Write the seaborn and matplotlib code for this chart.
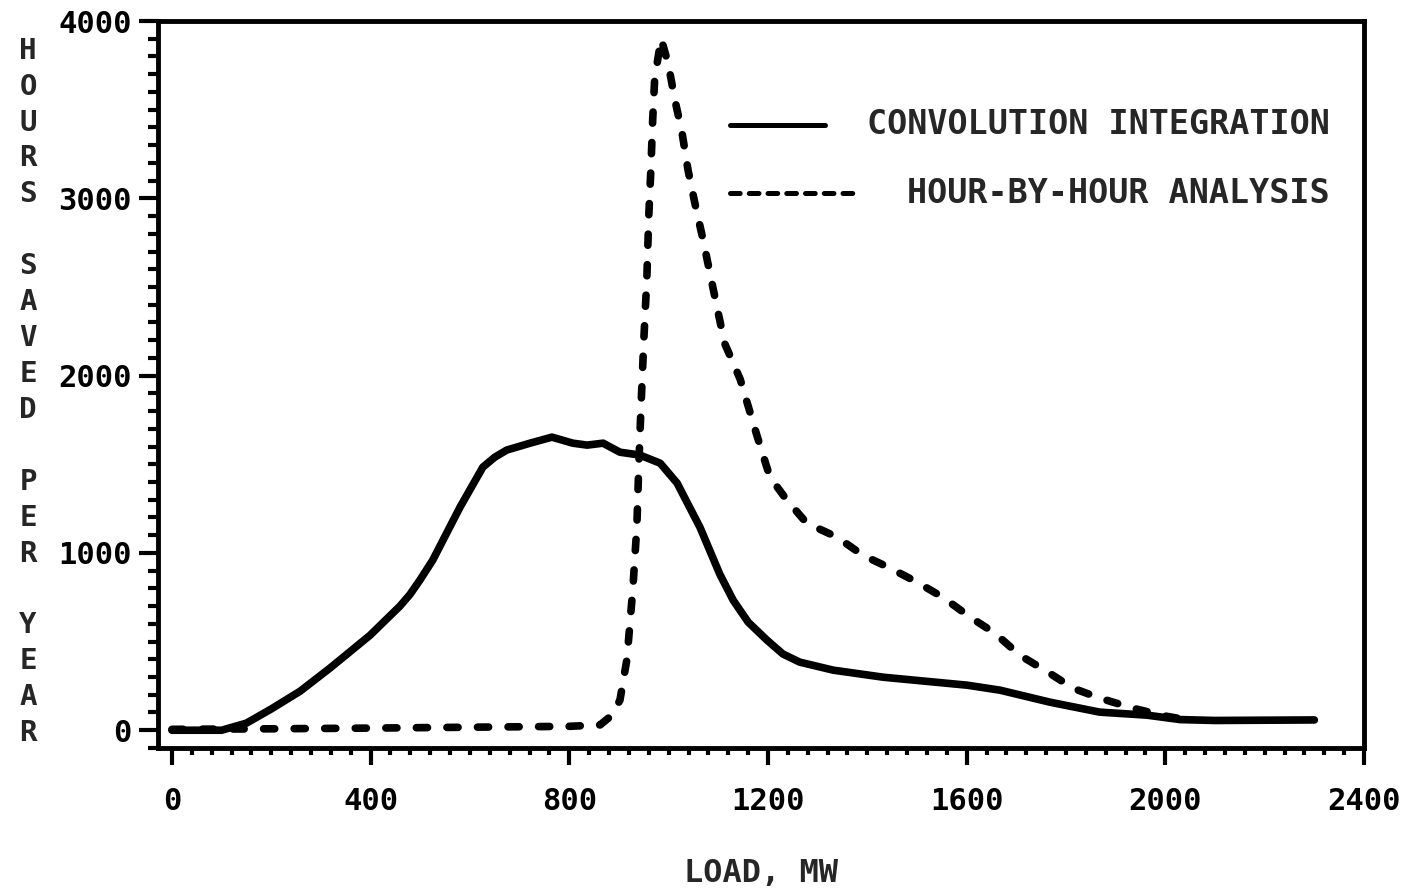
import matplotlib
matplotlib.use("Agg")
import matplotlib.pyplot as plt
from matplotlib.ticker import MultipleLocator
import seaborn as sns
import pandas as pd

# ---- data ----
load_conv = [0, 100, 150, 200, 258, 318, 399, 459, 479, 500, 525, 580, 626, 650, 674, 721, 765,
             807, 836, 868, 902, 942, 983, 1017, 1063, 1103, 1130, 1160, 1198, 1230, 1264, 1331,
             1432, 1601, 1667, 1768, 1868, 1963, 2030, 2100, 2300]
hours_conv = [0, 0, 40, 120, 220, 350, 536, 700, 765, 850, 959, 1258, 1484, 1540, 1580, 1619, 1653,
              1619, 1608, 1619, 1568, 1552, 1506, 1394, 1145, 880, 733, 610, 508, 430, 384, 339,
              299, 254, 226, 158, 102, 85, 60, 55, 58]

load_hbh = [0, 200, 400, 600, 800, 862, 886, 902, 916, 928, 936, 940, 944, 950, 956, 960,
            964, 968, 972, 985, 999, 1013, 1027, 1039, 1053, 1069, 1083, 1097, 1113, 1144,
            1178, 1204, 1238, 1278, 1339, 1391, 1446, 1500, 1552, 1607, 1657, 1707, 1764,
            1814, 1868, 1935, 2000, 2040]
hours_hbh = [5, 8, 12, 17, 22, 30, 85, 170, 400, 800, 1150, 1500, 1800, 2200, 2540, 2900,
             3150, 3450, 3680, 3900, 3760, 3550, 3370, 3160, 2970, 2770, 2580, 2390, 2180,
             1980, 1660, 1427, 1298, 1168, 1089, 987, 914, 835, 750, 638, 547, 423, 327,
             237, 181, 124, 80, 60]

series_names = ["CONVOLUTION INTEGRATION", "HOUR-BY-HOUR ANALYSIS"]
x_label = "LOAD, MW"
y_label = "HOURS SAVED PER YEAR"

# ---- style ----
sns.set_theme(style="ticks")
plt.rcParams["font.family"] = ["DejaVu Sans Mono", "DejaVu Sans"]
plt.rcParams["font.weight"] = "bold"
plt.rcParams["axes.labelweight"] = "bold"
plt.rcParams["lines.scale_dashes"] = False

df_conv = pd.DataFrame({"load": load_conv, "hours": hours_conv})
df_hbh = pd.DataFrame({"load": load_hbh, "hours": hours_hbh})

fig = plt.figure(figsize=(14.01, 8.90), dpi=100)
ax = fig.add_axes([0.1128, 0.1596, 0.8608, 0.8168])

sns.lineplot(data=df_conv, x="load", y="hours", ax=ax, color="black", lw=5.5,
             solid_capstyle="round", solid_joinstyle="round")
sns.lineplot(data=df_hbh, x="load", y="hours", ax=ax, color="black", lw=5.5,
             linestyle=(0, (8, 14)), dash_capstyle="round", dash_joinstyle="round")

ax.set_xlim(-28, 2400)
ax.set_ylim(-100, 4000)

ax.xaxis.set_major_locator(MultipleLocator(400))
ax.xaxis.set_minor_locator(MultipleLocator(40))
ax.yaxis.set_major_locator(MultipleLocator(1000))
ax.yaxis.set_minor_locator(MultipleLocator(100))

ax.tick_params(axis="x", which="major", direction="out", length=12, width=3, pad=16,
               labelsize=22, color="black", labelcolor="black")
ax.tick_params(axis="x", which="minor", direction="out", length=5, width=3, color="black")
ax.tick_params(axis="y", which="major", direction="out", length=14, width=3, pad=5,
               labelsize=22, color="black", labelcolor="black")
ax.tick_params(axis="y", which="minor", direction="out", length=7, width=3, color="black")

for s in ax.spines.values():
    s.set_visible(True)
    s.set_linewidth(3.5)
    s.set_color("black")

ax.set_xlabel(x_label, fontsize=23, fontweight="bold", labelpad=30)
stacked = "\n".join(list(y_label))
ax.set_ylabel(stacked, rotation=0, fontsize=21, fontweight="bold",
              ha="center", va="center", linespacing=1.36)
ax.yaxis.set_label_coords(-0.1078, 0.4897)

# ---- legend (manual, to keep right-aligned labels) ----
ax.plot([0.4743, 0.5531], [0.857, 0.857], transform=ax.transAxes, color="black",
        lw=3.6, solid_capstyle="round")
ax.plot([0.4743, 0.5821], [0.7634, 0.7634], transform=ax.transAxes, color="black",
        lw=3.6, linestyle=(0, (7, 6.5)), dash_capstyle="round")
ax.text(0.9718, 0.857, series_names[0], transform=ax.transAxes, ha="right",
        va="center", fontsize=24, fontweight="bold")
ax.text(0.9718, 0.7634, series_names[1], transform=ax.transAxes, ha="right",
        va="center", fontsize=24, fontweight="bold")

fig.savefig("out.png", dpi=100, facecolor="white")
